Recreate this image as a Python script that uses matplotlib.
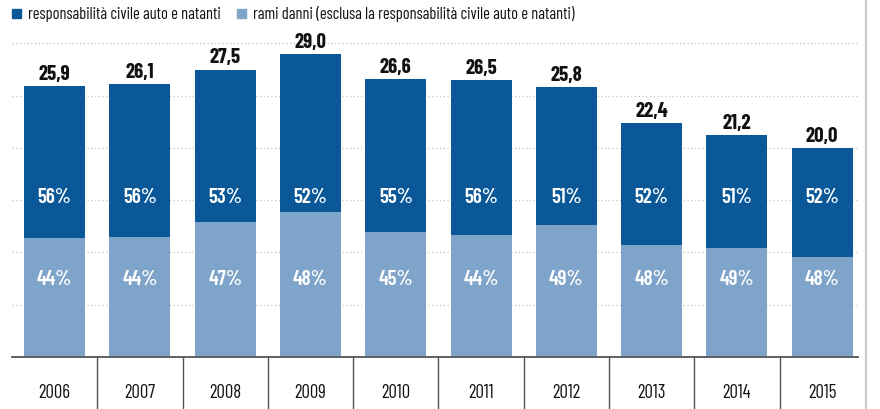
import matplotlib
matplotlib.use('Agg')
import matplotlib.pyplot as plt
from matplotlib.lines import Line2D
from matplotlib.patches import Rectangle

years = ['2006', '2007', '2008', '2009', '2010', '2011', '2012', '2013', '2014', '2015']
totals = [25.9, 26.1, 27.5, 29.0, 26.6, 26.5, 25.8, 22.4, 21.2, 20.0]
pct_rc = [56, 56, 53, 52, 55, 56, 51, 52, 51, 52]
pct_danni = [44, 44, 47, 48, 45, 44, 49, 48, 49, 48]
legend_labels = ['responsabilità civile auto e natanti',
                 'rami danni (esclusa la responsabilità civile auto e natanti)']

dark = '#0b5899'
light = '#7fa4c9'

plt.rcParams['font.family'] = ['Barlow Condensed', 'DejaVu Sans']

fig = plt.figure(figsize=(8.8, 4.1), dpi=100)
ax = fig.add_axes([12 / 880, 52 / 410, 846 / 880, 324 / 410])

x = list(range(len(years)))
lower = [t * p / 100 for t, p in zip(totals, pct_danni)]
upper = [t - l for t, l in zip(totals, lower)]

ax.bar(x, lower, width=0.715, color=light, zorder=2)
ax.bar(x, upper, bottom=lower, width=0.715, color=dark, zorder=2)

for i in x:
    ax.text(i, totals[i] + 0.3, f'{totals[i]:.1f}'.replace('.', ','), ha='center', va='bottom',
            fontsize=15, fontweight='bold', color='#111111')
    ax.text(i, 15.4, f'{pct_rc[i]}%', ha='center', va='center', fontsize=15,
            fontweight='semibold', color='white', zorder=3)
    ax.text(i, 7.5, f'{pct_danni[i]}%', ha='center', va='center', fontsize=15,
            fontweight='semibold', color='white', zorder=3)

for g in [5, 10, 15, 20, 25, 30]:
    ax.axhline(g, color='#c4c4c4', linestyle=(0, (1, 2)), linewidth=0.9, zorder=1)

ax.set_xlim(-0.5, 9.42)
ax.set_ylim(0, 31)
for s in ['top', 'right', 'left']:
    ax.spines[s].set_visible(False)
ax.spines['bottom'].set_color('#555555')
ax.spines['bottom'].set_linewidth(1.3)
ax.set_yticks([])
ax.set_xticks(x)
ax.set_xticklabels(years, fontsize=13.5, color='#111111')
ax.tick_params(axis='x', length=0, pad=19)

# separators between years, below the baseline
trans = ax.get_xaxis_transform()
for i in range(len(years) - 1):
    ax.add_line(Line2D([i + 0.5, i + 0.5], [0, -52 / 324], transform=trans,
                       color='#555555', linewidth=1.0, clip_on=False))

# legend
fig.patches.append(Rectangle((12 / 880, 1 - 19 / 410), 9 / 880, 9 / 410,
                             transform=fig.transFigure, color=dark))
fig.text(28 / 880, 1 - 14 / 410, legend_labels[0], fontsize=11.8, va='center', color='#111111')
fig.patches.append(Rectangle((237 / 880, 1 - 19 / 410), 9 / 880, 9 / 410,
                             transform=fig.transFigure, color=light))
fig.text(253 / 880, 1 - 14 / 410, legend_labels[1], fontsize=11.8, va='center', color='#111111')

# page edge
fig.add_artist(Line2D([866 / 880, 866 / 880], [0, 1], transform=fig.transFigure,
                      color='#cccccc', linewidth=1.5))

fig.savefig('out.png', dpi=100)
